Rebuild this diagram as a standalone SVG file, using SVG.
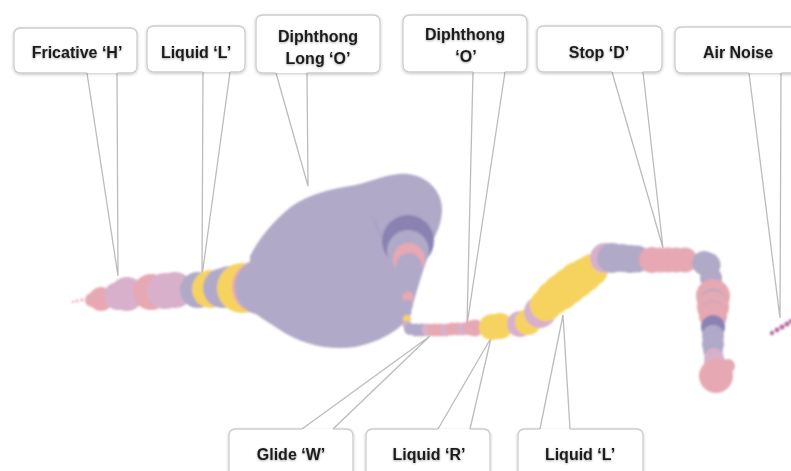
<svg xmlns="http://www.w3.org/2000/svg" width="791" height="471" viewBox="0 0 791 471">
  <style>
    .box { fill: #ffffff; stroke: #cdcdcd; stroke-width: 1.3; filter: url(#boxShadow); }
    .lbl { font-family: "Liberation Sans", Arial, sans-serif; font-weight: bold; font-size: 16px; fill: #1c1c1c; text-anchor: middle; filter: url(#textShadow); }
    .ptr { fill: none; stroke: #bcbcbc; stroke-width: 1.3; stroke-linejoin: miter; }
    .lav { fill: #b1a9c8; }
    .dk { fill: #8a83b2; }
    .pk { fill: #e6a8b2; }
    .mv { fill: #d8b0cb; }
    .yl { fill: #f6d35f; }
    .ns { fill: #b5699d; }
  </style>
  <defs>
    <filter id="boxShadow" x="-10%" y="-20%" width="120%" height="150%">
      <feDropShadow dx="0" dy="1" stdDeviation="1.8" flood-color="#000" flood-opacity="0.22"/>
    </filter>
    <filter id="textShadow" x="-5%" y="-20%" width="110%" height="150%">
      <feDropShadow dx="0" dy="0.8" stdDeviation="0.8" flood-color="#000" flood-opacity="0.35"/>
    </filter>
    <filter id="soft" x="-5%" y="-5%" width="110%" height="110%">
      <feGaussianBlur stdDeviation="0.8"/>
    </filter>
  </defs>

  <rect width="791" height="471" fill="#ffffff"/>

  <!-- pointer lines from each label to the part of the sound trace -->
  <g id="connectors">
    <polyline class="ptr" points="87,73 118,276 117,73"/>
    <polyline class="ptr" points="203,72 202,276 230,72"/>
    <polyline class="ptr" points="276,73 308,186 307,73"/>
    <polyline class="ptr" points="473,72 467,325 505,72"/>
    <polyline class="ptr" points="612,72 663,248 643,72"/>
    <polyline class="ptr" points="749,73 780,318 781,73"/>
    <polyline class="ptr" points="302,429 430,336 333,429"/>
    <polyline class="ptr" points="438,429 491,338 470,429"/>
    <polyline class="ptr" points="540,429 563,315 570,429"/>
  </g>

  <!-- sound trace: overlapping circles, each drawn over the previous -->
  <g id="trace" filter="url(#soft)">
    <!-- fricative tail -->
    <circle class="pk" cx="73" cy="302" r="1.2"/>
    <circle class="pk" cx="77" cy="301" r="1.4"/>
    <circle class="pk" cx="82" cy="300" r="1.6"/>
    <circle class="pk" cx="92" cy="300" r="7"/>
    <circle class="pk" cx="101" cy="299" r="12"/>
    <circle class="mv" cx="118" cy="296" r="14"/>
    <circle class="mv" cx="127" cy="294" r="17"/>
    <circle class="pk" cx="151" cy="292" r="18"/>
    <circle class="mv" cx="165" cy="291" r="18"/>
    <circle class="mv" cx="175" cy="290" r="18"/>
    <!-- liquid L -->
    <circle class="lav" cx="198" cy="290" r="18"/>
    <circle class="yl" cx="211" cy="289" r="19"/>
    <circle class="lav" cx="223" cy="288" r="20"/>
    <circle class="lav" cx="230" cy="287" r="21"/>
    <circle class="yl" cx="242" cy="288" r="25"/>
    <circle class="pk" cx="259" cy="287" r="27"/>
    <circle class="lav" cx="263" cy="287" r="28"/>
    <!-- long O vowel body -->
    <path class="lav" d="M250,256 C258,240 272,222 292,206 C310,194 330,189 350,186 C368,183 380,176 398,174 C418,172 434,182 440,198 C445,212 440,228 432,242 L426,262 C420,280 414,300 410,316 C400,330 380,342 355,347 C330,351 300,344 280,330 C268,322 258,316 250,310 Z"/>
    <path d="M373,217 L381,237" stroke="#9f97bd" stroke-width="0.8" fill="none"/>
    <circle class="dk" cx="408" cy="241" r="26"/>
    <circle class="lav" cx="408" cy="251" r="21"/>
    <circle class="pk" cx="409" cy="259" r="16"/>
    <circle class="lav" cx="409" cy="266" r="13"/>
    <circle class="lav" cx="409" cy="274" r="10"/>
    <circle class="lav" cx="409" cy="282" r="8"/>
    <circle class="lav" cx="408" cy="290" r="6"/>
    <circle class="pk" cx="408" cy="297" r="5.5"/>
    <circle class="lav" cx="408" cy="305" r="5"/>
    <circle class="lav" cx="407" cy="312" r="4.5"/>
    <circle class="yl" cx="407" cy="319" r="4"/>
    <circle class="mv" cx="407" cy="325" r="4.5"/>
    <!-- glide W and diphthong O -->
    <circle class="lav" cx="410" cy="329" r="6"/>
    <circle class="lav" cx="416" cy="330" r="6.5"/>
    <circle class="lav" cx="422" cy="330" r="6.5"/>
    <circle class="mv" cx="428" cy="330" r="6.5"/>
    <circle class="pk" cx="434" cy="330" r="6.5"/>
    <circle class="pk" cx="440" cy="330" r="6.5"/>
    <circle class="mv" cx="446" cy="330" r="6.5"/>
    <circle class="pk" cx="452" cy="329" r="6.5"/>
    <circle class="pk" cx="458" cy="329" r="6.5"/>
    <circle class="mv" cx="463" cy="329" r="6.5"/>
    <circle class="pk" cx="470" cy="328" r="7.5"/>
    <circle class="pk" cx="475" cy="328" r="8.5"/>
    <!-- liquid R -->
    <circle class="yl" cx="492" cy="327" r="13"/>
    <circle class="yl" cx="500" cy="326" r="13"/>
    <circle class="mv" cx="520" cy="324" r="13"/>
    <circle class="yl" cx="528" cy="322" r="13"/>
    <circle class="mv" cx="540" cy="312" r="16"/>
    <!-- liquid L -->
    <circle class="yl" cx="546" cy="305" r="16"/>
    <circle class="yl" cx="553" cy="298" r="17"/>
    <circle class="yl" cx="561" cy="292" r="18"/>
    <circle class="yl" cx="569" cy="286" r="18"/>
    <circle class="yl" cx="577" cy="280" r="18"/>
    <circle class="yl" cx="585" cy="275" r="17"/>
    <circle class="yl" cx="592" cy="270" r="16"/>
    <circle class="mv" cx="605" cy="258" r="15"/>
    <circle class="lav" cx="612" cy="258" r="15"/>
    <circle class="lav" cx="622" cy="258" r="14"/>
    <circle class="lav" cx="630" cy="259" r="14"/>
    <circle class="lav" cx="637" cy="259" r="13.5"/>
    <!-- stop D -->
    <circle class="pk" cx="652" cy="260" r="13"/>
    <circle class="pk" cx="660" cy="260" r="12.5"/>
    <circle class="pk" cx="668" cy="260" r="12.5"/>
    <circle class="pk" cx="676" cy="260" r="12.5"/>
    <circle class="pk" cx="685" cy="260" r="12.5"/>
    <circle class="lav" cx="704" cy="263" r="12"/>
    <circle class="lav" cx="708" cy="265" r="12.5"/>
    <circle class="lav" cx="711" cy="278" r="11"/>
    <circle class="pk" cx="713" cy="296" r="17"/>
    <circle class="lav" cx="713" cy="303" r="14"/>
    <circle class="pk" cx="713" cy="307" r="16"/>
    <circle class="lav" cx="713" cy="314" r="13"/>
    <circle class="pk" cx="713" cy="316" r="14"/>
    <circle class="dk" cx="713" cy="327" r="12"/>
    <circle class="lav" cx="713" cy="336" r="11"/>
    <circle class="lav" cx="713" cy="344" r="11"/>
    <circle class="lav" cx="713" cy="350" r="10"/>
    <circle class="mv" cx="714" cy="358" r="10"/>
    <circle class="mv" cx="715" cy="364" r="11"/>
    <circle class="pk" cx="716" cy="376" r="17"/>
    <circle class="pk" cx="728" cy="366" r="7"/>
    <!-- air noise -->
    <circle class="ns" cx="772" cy="333" r="2.2"/>
    <circle class="ns" cx="777" cy="330" r="2.4"/>
    <circle class="ns" cx="782" cy="327" r="2.5"/>
    <circle class="ns" cx="787" cy="324" r="2.5"/>
    <circle class="ns" cx="791" cy="321" r="2.2"/>
  </g>

  <!-- label bubbles: outline left open where the pointer leaves -->
  <g id="fricative-h">
    <path class="box" d="M117,73 H130 Q137,73 137,66 V35 Q137,28 130,28 H21 Q14,28 14,35 V66 Q14,73 21,73 H87"/>
    <text class="lbl" x="77" y="58">Fricative ‘H’</text>
  </g>
  <g id="liquid-l-top">
    <path class="box" d="M230,72 H238 Q245,72 245,65 V33 Q245,26 238,26 H154 Q147,26 147,33 V65 Q147,72 154,72 H203"/>
    <text class="lbl" x="196" y="58">Liquid ‘L’</text>
  </g>
  <g id="diphthong-long-o">
    <path class="box" d="M307,73 H373 Q380,73 380,66 V22 Q380,15 373,15 H263 Q256,15 256,22 V66 Q256,73 263,73 H276"/>
    <text class="lbl" x="318" y="42">Diphthong</text>
    <text class="lbl" x="318" y="64">Long  ‘O’</text>
  </g>
  <g id="diphthong-o">
    <path class="box" d="M505,72 H520 Q527,72 527,65 V22 Q527,15 520,15 H410 Q403,15 403,22 V65 Q403,72 410,72 H473"/>
    <text class="lbl" x="465" y="40">Diphthong</text>
    <text class="lbl" x="466" y="62">‘O’</text>
  </g>
  <g id="stop-d">
    <path class="box" d="M643,72 H655 Q662,72 662,65 V33 Q662,26 655,26 H544 Q537,26 537,33 V65 Q537,72 544,72 H612"/>
    <text class="lbl" x="599" y="58">Stop ‘D’</text>
  </g>
  <g id="air-noise">
    <path class="box" d="M781,73 H795 V27 H682 Q675,27 675,34 V66 Q675,73 682,73 H749"/>
    <text class="lbl" x="738" y="58">Air Noise</text>
  </g>
  <g id="glide-w">
    <path class="box" d="M302,429 H236 Q229,429 229,436 V480 H353 V436 Q353,429 346,429 H333"/>
    <text class="lbl" x="291" y="460">Glide ‘W’</text>
  </g>
  <g id="liquid-r">
    <path class="box" d="M438,429 H373 Q366,429 366,436 V480 H490 V436 Q490,429 483,429 H470"/>
    <text class="lbl" x="429" y="460">Liquid ‘R’</text>
  </g>
  <g id="liquid-l-bottom">
    <path class="box" d="M540,429 H525 Q518,429 518,436 V480 H643 V436 Q643,429 636,429 H570"/>
    <text class="lbl" x="580" y="460">Liquid ‘L’</text>
  </g>
</svg>
